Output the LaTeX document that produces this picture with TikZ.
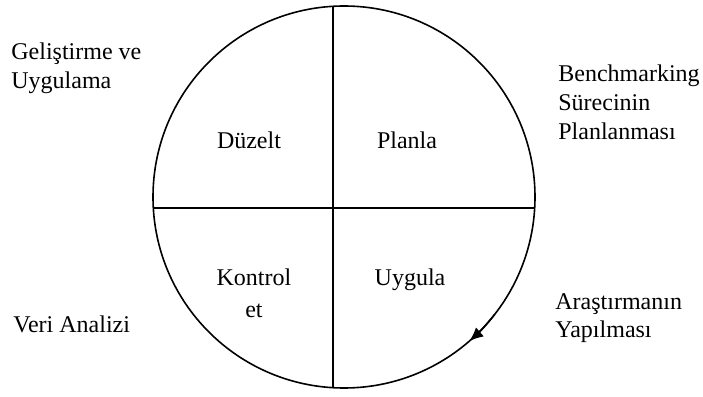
\documentclass[tikz,border=0pt]{standalone}
\usepackage{fontspec}
\setmainfont{Liberation Serif}
\usepackage{tikz}
\usetikzlibrary{arrows.meta}

\begin{document}
\begin{tikzpicture}[x=0.5pt,y=0.5pt,font=\fontsize{12}{14.5}\selectfont,
  lbl/.style={inner sep=0pt,align=left,anchor=base west},
  quad/.style={inner sep=0pt,align=center,anchor=base}]
\useasboundingbox (0,0) rectangle (703,397);
\coordinate (c) at (344,200);
\draw[line width=0.8pt] (c) circle[radius=191];
% cross
\coordinate (top) at (333,9.3);
\coordinate (bot) at (333,390.7);
\coordinate (lft) at (153.3,189);
\coordinate (rgt) at (534.7,189);
\draw[line width=1pt] (top) -- (bot);
\draw[line width=1pt] (lft) -- (rgt);
% arrow on the rim
\draw[line width=0.8pt,-{Latex[length=7pt,width=6pt]}]
  (c) ++(-38:191) arc[start angle=-38,end angle=-49,radius=191];
% quadrant labels (base = last line)
\node[quad] (duz) at (249,248) {Düzelt};
\node[quad] (pla) at (407,248) {Planla};
\node[quad,font=\fontsize{12}{16.5}\selectfont] (kon) at (254,79) {Kontrol\\et};
\node[quad] (uyg) at (410,112) {Uygula};
% outer labels
\node[lbl] (gel) at (11,308) {Geliştirme ve\\Uygulama};
\node[lbl] (ben) at (558,257) {Benchmarking\\Sürecinin\\Planlanması};
\node[lbl] (ara) at (555,59) {Araştırmanın\\Yapılması};
\node[lbl] (ver) at (13,64) {Veri Analizi};
\end{tikzpicture}
\end{document}
